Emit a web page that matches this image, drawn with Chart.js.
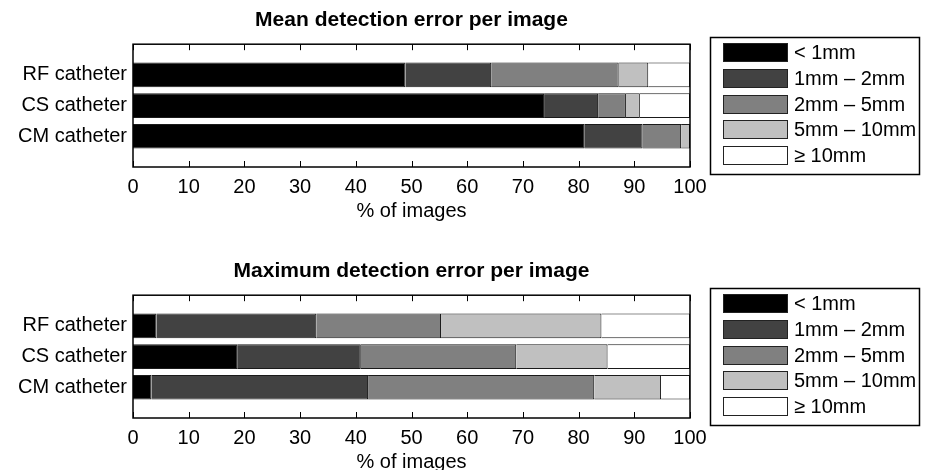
<!DOCTYPE html>
<html>
<head>
<meta charset="utf-8">
<script src="https://cdn.jsdelivr.net/npm/chart.js@4"></script>
<style>
  body { margin: 0; background: #fff; overflow: hidden; width: 927px; height: 470px; }
  canvas { display: block; }
</style>
</head>
<body>
<canvas id="graficoMedio" width="927" height="251"></canvas>
<canvas id="graficoMaximo" width="927" height="251"></canvas>
<script>
const categorias = ['RF catheter', 'CS catheter', 'CM catheter'];
const faixas = ['< 1mm', '1mm – 2mm', '2mm – 5mm', '5mm – 10mm', '≥ 10mm'];
const cores = ['#000000', '#424242', '#808080', '#c0c0c0', '#ffffff'];
const marcasX = [0, 10, 20, 30, 40, 50, 60, 70, 80, 90, 100];

// mean error: % of images in each band, order RF, CS, CM
const medioAte1 = [48.9, 73.8, 81.1];
const medio1a2 = [15.4, 9.7, 10.4];
const medio2a5 = [22.9, 5.0, 6.9];
const medio5a10 = [5.3, 2.5, 1.6];
const medioAcima10 = [7.5, 9.0, 0.0];

// maximum error
const maximoAte1 = [4.2, 18.7, 3.3];
const maximo1a2 = [28.7, 22.2, 38.9];
const maximo2a5 = [22.4, 27.9, 40.6];
const maximo5a10 = [28.8, 16.4, 12.0];
const maximoAcima10 = [15.9, 14.8, 5.2];

Chart.defaults.font.family = '"Liberation Sans", Arial, sans-serif';
Chart.defaults.font.size = 20;
Chart.defaults.color = '#000';

// box round the plot, with inward ticks like matlab
const moldura = {
  id: 'moldura',
  afterDatasetsDraw(chart) {
    const ctx = chart.ctx;
    const a = chart.chartArea;
    const x = chart.scales.x;
    ctx.save();
    ctx.strokeStyle = '#000';
    ctx.lineWidth = 1.5;
    ctx.strokeRect(a.left, a.top, a.right - a.left, a.bottom - a.top);
    ctx.lineWidth = 1;
    x.ticks.forEach(t => {
      const px = Math.round(x.getPixelForValue(t.value)) + 0.5;
      ctx.beginPath();
      ctx.moveTo(px, a.top);
      ctx.lineTo(px, a.top + 6);
      ctx.moveTo(px, a.bottom);
      ctx.lineTo(px, a.bottom - 6);
      ctx.stroke();
    });
    ctx.restore();
  }
};

const legenda = {
  id: 'legenda',
  afterDraw(chart) {
    const ctx = chart.ctx;
    ctx.save();
    ctx.strokeStyle = '#000';
    ctx.lineWidth = 1.5;
    ctx.strokeRect(710.5, 37.5, 209, 137);
    ctx.font = '20px "Liberation Sans", Arial, sans-serif';
    ctx.textBaseline = 'middle';
    chart.data.datasets.forEach((ds, i) => {
      const y = Math.round(43 + i * 25.8);
      ctx.fillStyle = ds.backgroundColor;
      ctx.fillRect(723, y, 65, 19);
      ctx.lineWidth = 1;
      ctx.strokeStyle = '#222';
      ctx.strokeRect(723.5, y + 0.5, 64, 18);
      ctx.fillStyle = '#000';
      ctx.fillText(ds.label, 794, y + 10);
    });
    ctx.restore();
  }
};

function montaDatasets(valores) {
  return faixas.map((faixa, i) => ({
    label: faixa,
    data: valores[i].map((v, j) => ({ x: v, y: j + 1 })),
    backgroundColor: cores[i],
    borderColor: '#1a1a1a',
    borderWidth: 1,
    barPercentage: 0.8,
    categoryPercentage: 1
  }));
}

function criaGrafico(id, titulo, valores) {
  return new Chart(document.getElementById(id), {
    type: 'bar',
    data: { datasets: montaDatasets(valores) },
    options: {
      indexAxis: 'y',
      responsive: false,
      animation: false,
      layout: { padding: { left: 0, right: 237, top: 0, bottom: 0 } },
      plugins: {
        legend: { display: false },
        tooltip: { enabled: false },
        title: {
          display: true,
          text: titulo,
          fullSize: false,
          color: '#000',
          font: { size: 21, weight: 'bold' },
          padding: { top: 8, bottom: 11 }
        }
      },
      scales: {
        x: {
          type: 'linear',
          stacked: true,
          min: 0,
          max: 100,
          afterBuildTicks(s) { s.ticks = marcasX.map(v => ({ value: v })); },
          ticks: { padding: 8, maxRotation: 0 },
          grid: { display: false, drawTicks: false },
          border: { display: false },
          title: { display: true, text: '% of images', padding: { top: 0, bottom: 28 } },
          afterFit(s) { s.height = 84; }
        },
        y: {
          type: 'linear',
          stacked: true,
          reverse: true,
          offset: false,
          min: 0,
          max: 4,
          afterBuildTicks(s) { s.ticks = categorias.map((c, i) => ({ value: i + 1 })); },
          ticks: { padding: 6, callback: v => categorias[v - 1] },
          grid: { display: false, drawTicks: false, offset: false },
          border: { display: false },
          afterFit(s) { s.width = 133; }
        }
      }
    },
    plugins: [moldura, legenda]
  });
}

criaGrafico('graficoMedio', 'Mean detection error per image',
  [medioAte1, medio1a2, medio2a5, medio5a10, medioAcima10]);
criaGrafico('graficoMaximo', 'Maximum detection error per image',
  [maximoAte1, maximo1a2, maximo2a5, maximo5a10, maximoAcima10]);
</script>
</body>
</html>
